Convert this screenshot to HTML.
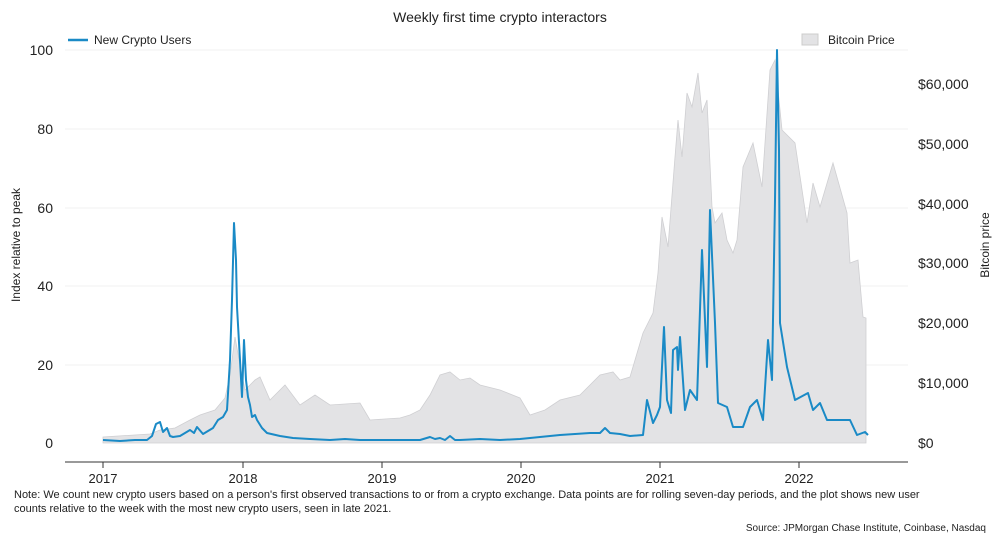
<!DOCTYPE html>
<html><head><meta charset="utf-8"><style>
body{margin:0;background:#fff}
svg text{font-family:"Liberation Sans",sans-serif;fill:#222}
</style></head><body>
<svg width="1000" height="543" viewBox="0 0 1000 543" xmlns="http://www.w3.org/2000/svg">
<text x="500" y="22" font-size="14" text-anchor="middle">Weekly first time crypto interactors</text>
<line x1="68" y1="40" x2="88" y2="40" stroke="#1a8ac6" stroke-width="2.5"/>
<text x="94" y="44" font-size="12">New Crypto Users</text>
<rect x="802" y="34" width="16" height="11" fill="#e3e3e5" stroke="#ccc"/>
<text x="828" y="44" font-size="12">Bitcoin Price</text>
<g stroke="#f2f2f2" stroke-width="1">
<line x1="65" y1="50" x2="908" y2="50"/><line x1="65" y1="129" x2="908" y2="129"/><line x1="65" y1="208" x2="908" y2="208"/><line x1="65" y1="286" x2="908" y2="286"/><line x1="65" y1="365" x2="908" y2="365"/>
</g>
<polygon fill="#e3e3e5" stroke="#cfcfd2" stroke-width="0.8" points="103,443 103,437 150,434 160,430 175,428 190,420 200,415 215,410 225,398 230,375 235,337 240,365 245,390 255,380 260,377 270,400 285,385 300,405 315,395 330,405 360,403 370,420 400,418 410,415 420,410 430,395 440,375 450,372 460,380 470,378 480,385 500,390 520,398 530,415 545,410 560,400 580,395 600,375 613,372 620,380 630,377 643,333 653,313 658,273 662,217 668,247 675,157 678,120 682,157 687,93 692,107 698,73 702,113 707,100 712,207 715,223 722,213 727,240 733,253 737,240 743,167 753,143 762,187 770,70 775,60 782,130 795,143 807,223 813,183 820,207 833,163 847,213 850,263 858,260 863,317 866,318 866,443"/>
<polyline fill="none" stroke="#1a8ac6" stroke-width="2" stroke-linejoin="round" points="103,440 120,441 135,440 147,440 152,436 156,424 160,422 163,432 167,428 170,436 173,437 180,436 190,430 194,433 197,427 203,434 213,428 218,420 223,417 227,410 230,360 232,300 234,223 236,260 237,307 240,360 242,397 244,340 246,380 248,397 250,405 252,417 255,415 257,420 262,428 267,433 280,436 293,438 310,439 330,440 345,439 360,440 380,440 400,440 420,440 430,437 435,439 440,438 445,440 450,436 455,440 460,440 480,439 500,440 520,439 540,437 560,435 575,434 590,433 600,433 605,428 610,433 620,434 630,436 643,435 647,400 653,423 657,415 660,407 664,327 667,400 671,413 673,350 677,347 678,370 680,337 685,410 690,390 697,400 702,250 707,367 710,210 715,323 718,403 727,407 733,427 743,427 750,407 757,400 763,420 768,340 772,380 775,200 777,50 779,150 780,323 787,367 795,400 808,393 813,410 820,403 827,420 837,420 850,420 857,435 865,432 868,435"/>
<line x1="65" y1="462" x2="908" y2="462" stroke="#333" stroke-width="1"/>
<g stroke="#333"><line x1="103" y1="462" x2="103" y2="468"/><line x1="243" y1="462" x2="243" y2="468"/><line x1="382" y1="462" x2="382" y2="468"/><line x1="521" y1="462" x2="521" y2="468"/><line x1="660" y1="462" x2="660" y2="468"/><line x1="799" y1="462" x2="799" y2="468"/></g>
<g font-size="13" text-anchor="middle"><text x="103" y="483">2017</text><text x="243" y="483">2018</text><text x="382" y="483">2019</text><text x="521" y="483">2020</text><text x="660" y="483">2021</text><text x="799" y="483">2022</text></g>
<g font-size="14" text-anchor="end"><text x="53" y="55">100</text><text x="53" y="134">80</text><text x="53" y="213">60</text><text x="53" y="291">40</text><text x="53" y="370">20</text><text x="53" y="448">0</text></g>
<g font-size="14"><text x="918" y="89">$60,000</text><text x="918" y="149">$50,000</text><text x="918" y="209">$40,000</text><text x="918" y="268">$30,000</text><text x="918" y="328">$20,000</text><text x="918" y="388">$10,000</text><text x="918" y="448">$0</text></g>
<text transform="translate(20,245) rotate(-90)" font-size="12" text-anchor="middle">Index relative to peak</text>
<text transform="translate(989,245) rotate(-90)" font-size="12" text-anchor="middle">Bitcoin price</text>
<text x="14" y="498" font-size="11">Note: We count new crypto users based on a person's first observed transactions to or from a crypto exchange. Data points are for rolling seven-day periods, and the plot shows new user</text>
<text x="14" y="512" font-size="11">counts relative to the week with the most new crypto users, seen in late 2021.</text>
<text x="986" y="531" font-size="10" text-anchor="end" fill="#444">Source: JPMorgan Chase Institute, Coinbase, Nasdaq</text>
</svg>
</body></html>
